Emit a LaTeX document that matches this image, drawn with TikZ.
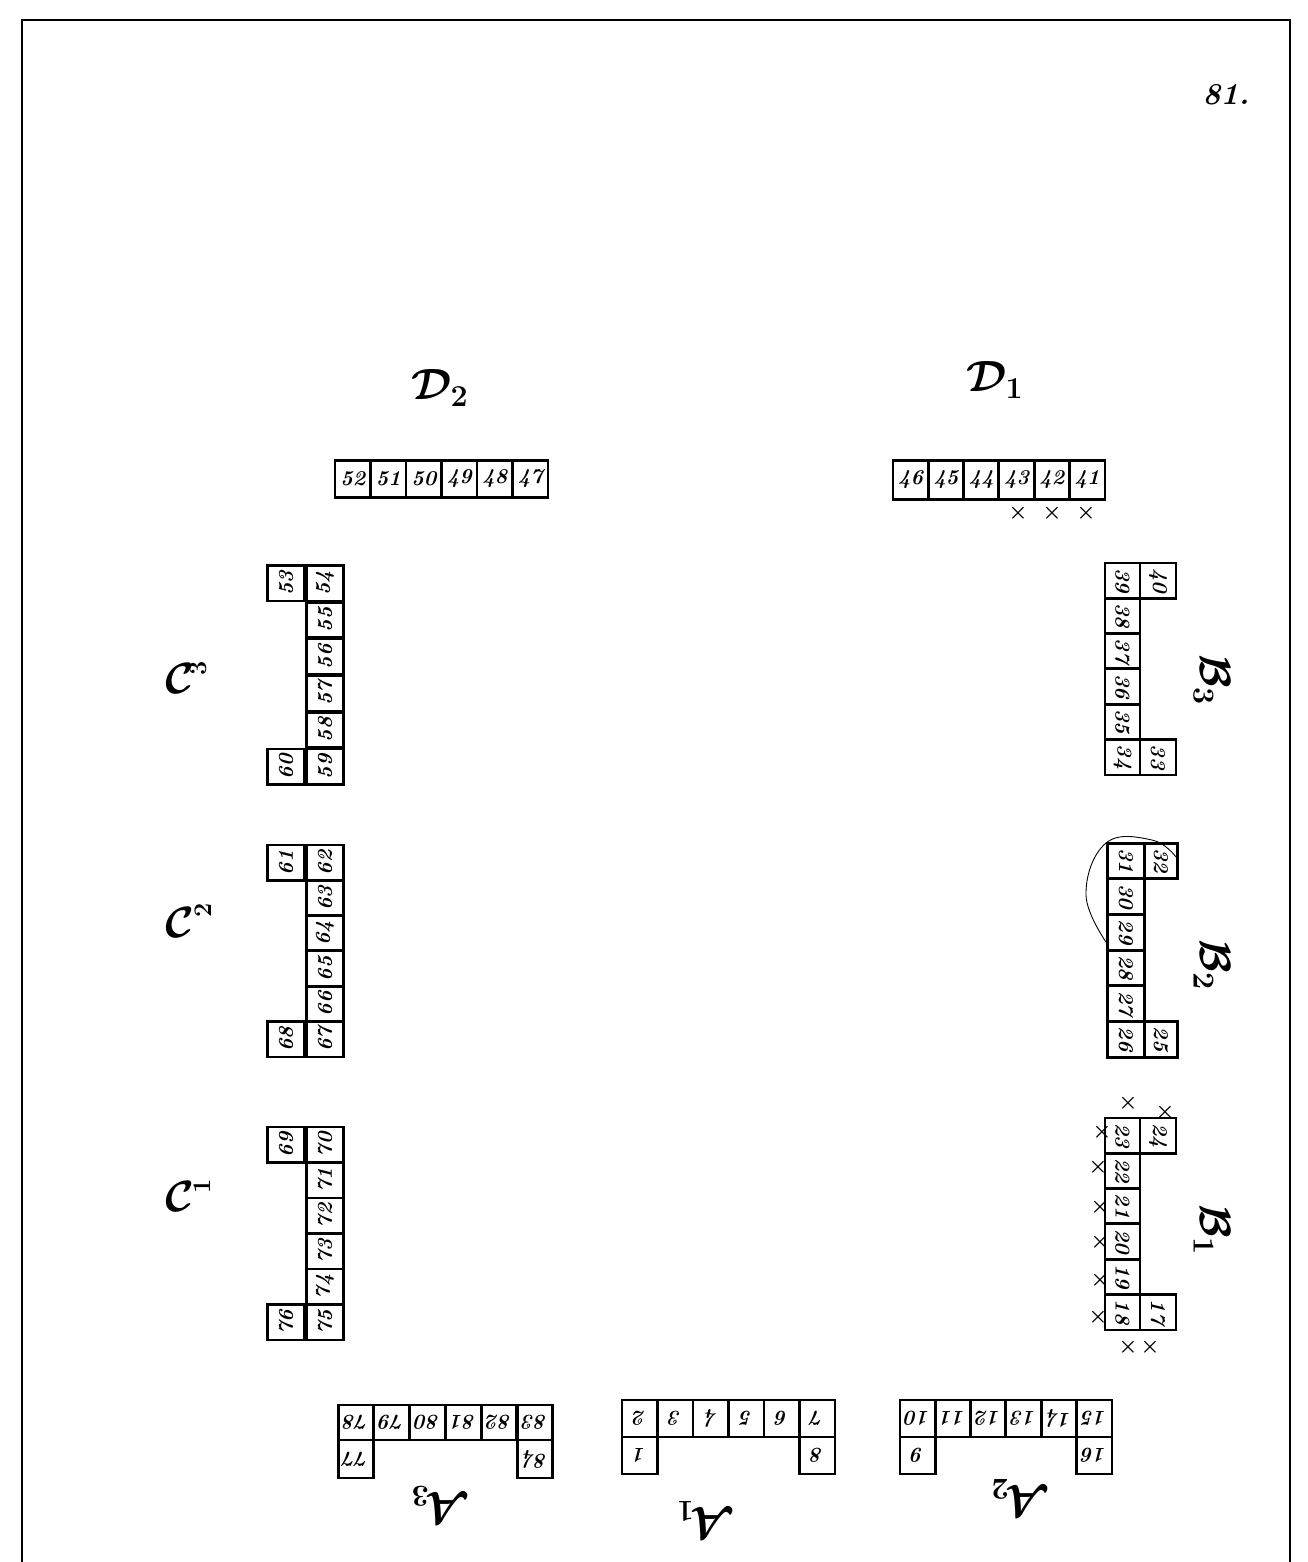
\documentclass[tikz,border=0pt]{standalone}
\usepackage{graphicx}
\begin{document}
\begin{tikzpicture}[x=0.02cm,y=-0.02cm,
  hcell/.style={draw, line width=1.6pt, minimum width=0.71cm, minimum height=0.73cm, inner sep=0pt, font=\bfseries\itshape\large},
  vcell/.style={draw, line width=1.6pt, minimum width=0.74cm, minimum height=0.71cm, inner sep=0pt, font=\bfseries\itshape\large},
  grplabel/.style={font=\fontsize{24}{26}\selectfont\boldmath},
  subl/.style={font=\bfseries\Large},
  xmark/.style={inner sep=0pt, font=\large\boldmath},
  frameline/.style={line width=1.1pt}]
\useasboundingbox (0,0) rectangle (1308,1562);
% frame
\coordinate (f1) at (22,1562); \coordinate (f2) at (22,20);
\coordinate (f3) at (1290,20); \coordinate (f4) at (1290,1562);
\draw[frameline] (f1) -- (f2) -- (f3) -- (f4);
\node[font=\bfseries\itshape\LARGE] (pg) at (1226,95) {81.};

% ---- D2 ----
\foreach \t [count=\i from 0] in {52,51,50,49,48,47}
  \node[hcell] (d2-\i) at ({352.75+35.5*\i},479) {\t};
\node[grplabel] (D2) at (440,388) {$\mathcal{D}_2$};
% ---- D1 ----
\foreach \t [count=\i from 0] in {46,45,44,43,42,41}
  \node[hcell, minimum height=0.78cm] (d1-\i) at ({910.65+35.3*\i},480) {\t};
\node[grplabel] (D1) at (995,380) {$\mathcal{D}_1$};
\foreach \xx [count=\i] in {1018,1052,1086}
  \node[xmark] (dx\i) at (\xx,513) {$\times$};

% ---- C3 ----
\foreach \t [count=\i from 0] in {54,55,56,57,58,59}
  \node[vcell] (c3-\i) at (325,{583.3+36.67*\i}) {\rotatebox{90}{\t}};
\node[vcell] (c3-a) at (286,583.3) {\rotatebox{90}{53}};
\node[vcell] (c3-b) at (286,766.7) {\rotatebox{90}{60}};
\node[grplabel] (C3) at (180,678) {$\mathcal{C}$};
\node[subl] (C3s) at (198,668) {\rotatebox{90}{3}};
% ---- C2 ----
\foreach \t [count=\i from 0] in {62,63,64,65,66,67}
  \node[vcell] (c2-\i) at (325,{862.7+35.3*\i}) {\rotatebox{90}{\t}};
\node[vcell] (c2-a) at (286,862.7) {\rotatebox{90}{61}};
\node[vcell] (c2-b) at (286,1039.2) {\rotatebox{90}{68}};
\node[grplabel] (C2) at (180,922) {$\mathcal{C}$};
\node[subl] (C2s) at (203,910) {\rotatebox{90}{2}};
% ---- C1 ----
\foreach \t [count=\i from 0] in {70,71,72,73,74,75}
  \node[vcell] (c1-\i) at (325,{1144.75+35.5*\i}) {\rotatebox{90}{\t}};
\node[vcell] (c1-a) at (286,1144.75) {\rotatebox{90}{69}};
\node[vcell] (c1-b) at (286,1322.25) {\rotatebox{90}{76}};
\node[grplabel] (C1) at (180,1196) {$\mathcal{C}$};
\node[subl] (C1s) at (202,1186) {\rotatebox{90}{1}};

% ---- B3 ----
\foreach \t [count=\i from 0] in {39,38,37,36,35,34}
  \node[vcell, minimum width=0.7cm] (b3-\i) at (1122.5,{580.65+35.3*\i}) {\rotatebox{-90}{\t}};
\node[vcell, minimum width=0.72cm] (b3-a) at (1158,580.65) {\rotatebox{-90}{40}};
\node[vcell, minimum width=0.72cm] (b3-b) at (1158,757.15) {\rotatebox{-90}{33}};
\node[grplabel, rotate=-90] (B3) at (1212,680) {$\mathcal{B}_3$};
% ---- B2 ----
\foreach \t [count=\i from 0] in {31,30,29,28,27,26}
  \node[vcell] (b2-\i) at (1126,{860.85+35.7*\i}) {\rotatebox{-90}{\t}};
\node[vcell, minimum width=0.66cm] (b2-a) at (1161,860.85) {\rotatebox{-90}{32}};
\node[vcell, minimum width=0.66cm] (b2-b) at (1161,1039.35) {\rotatebox{-90}{25}};
\node[grplabel, rotate=-90] (B2) at (1212,965) {$\mathcal{B}_2$};
\coordinate (arc1) at (1176,857);
\coordinate (arc2) at (1108,945);
\draw[line width=0.5pt] plot[smooth, tension=0.7] coordinates {(arc1) (1152,840) (1106,843) (1086,895) (arc2)};
% ---- B1 ----
\foreach \t [count=\i from 0] in {23,22,21,20,19,18}
  \node[vcell, minimum width=0.7cm] (b1-\i) at (1122.5,{1135.65+35.3*\i}) {\rotatebox{-90}{\t}};
\node[vcell, minimum width=0.72cm] (b1-a) at (1158,1135.65) {\rotatebox{-90}{24}};
\node[vcell, minimum width=0.72cm] (b1-b) at (1158,1312.15) {\rotatebox{-90}{17}};
\node[grplabel, rotate=-90] (B1) at (1212,1230) {$\mathcal{B}_1$};
\foreach \xx/\yy [count=\i] in {1102/1132,1098/1167,1100/1207,1100/1242,1100/1280,1098/1317,1128/1103,1165/1112,1128/1347,1150/1347}
  \node[xmark] (bx\i) at (\xx,\yy) {$\times$};

% ---- A3 ----
\foreach \t [count=\i from 0] in {78,79,80,81,82,83}
  \node[hcell, minimum height=0.7cm] (a3-\i) at ({355.9+35.8*\i},1422.5) {\rotatebox{180}{\t}};
\node[hcell, minimum height=0.76cm] (a3-a) at (355.9,1459) {\rotatebox{180}{77}};
\node[hcell, minimum height=0.76cm] (a3-b) at (534.9,1459) {\rotatebox{180}{84}};
\node[grplabel, rotate=180] (A3) at (440,1505) {$\mathcal{A}_3$};
% ---- A1 ----
\foreach \t [count=\i from 0] in {2,3,4,5,6,7}
  \node[hcell, minimum height=0.74cm] (a1-\i) at ({639.75+35.5*\i},1418.5) {\rotatebox{180}{\t}};
\node[hcell, minimum height=0.74cm] (a1-a) at (639.75,1455.5) {\rotatebox{180}{1}};
\node[hcell, minimum height=0.74cm] (a1-b) at (817.25,1455.5) {\rotatebox{180}{8}};
\node[grplabel, rotate=180] (A1) at (705,1520) {$\mathcal{A}_1$};
% ---- A2 ----
\foreach \t [count=\i from 0] in {10,11,12,13,14,15}
  \node[hcell, minimum height=0.74cm] (a2-\i) at ({917.65+35.3*\i},1418.5) {\rotatebox{180}{\t}};
\node[hcell, minimum height=0.74cm] (a2-a) at (917.65,1455.5) {\rotatebox{180}{9}};
\node[hcell, minimum height=0.74cm] (a2-b) at (1094.15,1455.5) {\rotatebox{180}{16}};
\node[grplabel, rotate=180] (A2) at (1020,1498) {$\mathcal{A}_2$};
\end{tikzpicture}
\end{document}
